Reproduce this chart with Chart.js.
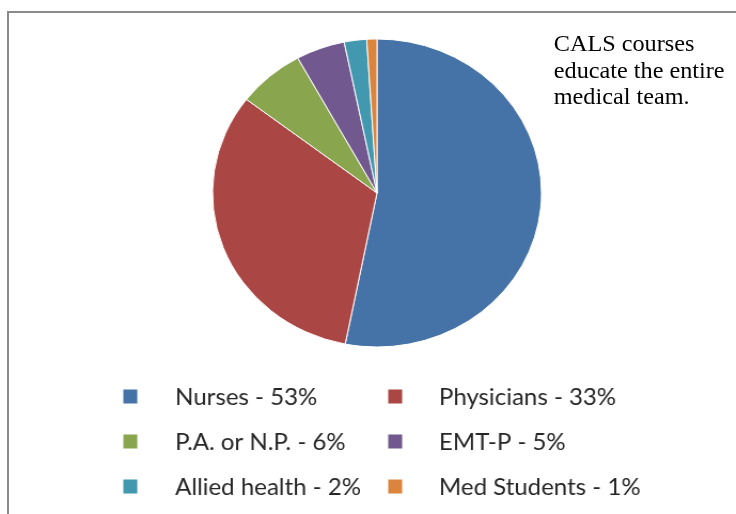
<!DOCTYPE html>
<html>
<head>
<meta charset="utf-8">
<script src="https://cdn.jsdelivr.net/npm/chart.js@4.4.1/dist/chart.umd.min.js"></script>
<style>
  html, body { margin: 0; padding: 0; background: #fff; overflow: hidden; }
  #wrap { position: relative; width: 736px; height: 514px; overflow: hidden; }
  #frame {
    position: absolute; left: 7px; top: 11px; width: 800px; height: 600px;
    border: 2px solid #8a8a8a; box-sizing: border-box;
  }
  /* a figura original está esticada na horizontal (~6.8%) */
  #stage {
    position: absolute; left: 0; top: 0; width: 689px; height: 514px;
    transform: scaleX(1.068); transform-origin: 0 0;
  }
  #chart { position: absolute; left: 0; top: 0; }
  #note {
    position: absolute; left: 518.5px; top: 31px;
    font-family: "Liberation Serif", "Times New Roman", serif;
    font-size: 22.7px; line-height: 26.5px; color: #000; white-space: nowrap;
  }
</style>
</head>
<body>
<div id="wrap">
  <div id="frame"></div>
  <div id="stage">
    <canvas id="chart" width="689" height="514"></canvas>
    <div id="note">CALS courses<br>educate the entire<br>medical team.</div>
  </div>
</div>
<script>
// dados
const categories = ['Nurses', 'Physicians', 'P.A. or N.P.', 'EMT-P', 'Allied health', 'Med Students'];
const legendLabels = ['Nurses - 53%', 'Physicians - 33%', 'P.A. or N.P. - 6%', 'EMT-P - 5%', 'Allied health - 2%', 'Med Students - 1%'];
const shares = [53.1, 32.3, 6.6, 4.8, 2.2, 1.0];
const sliceColors = ['#4572A7', '#AA4643', '#89A54E', '#71588F', '#4198AF', '#DB843D'];

// legenda em duas colunas, desenhada no canvas
const gridLegend = {
  id: 'gridLegend',
  afterDraw(chart) {
    const ctx = chart.ctx;
    const ds = chart.data.datasets[0];
    const boxX = [115.5, 363.5];
    const textX = [164, 411];
    ctx.save();
    ctx.font = '22.5px Lato, "Open Sans", sans-serif';
    ctx.textBaseline = 'middle';
    chart.data.labels.forEach((lbl, i) => {
      const col = i % 2;
      const row = Math.floor(i / 2);
      const y = 396.5 + row * 45;
      ctx.fillStyle = ds.backgroundColor[i];
      ctx.fillRect(boxX[col], y - 7, 13, 14);
      ctx.fillStyle = '#262626';
      ctx.fillText(legendLabels[i], textX[col], y + 1);
    });
    ctx.restore();
  }
};

new Chart(document.getElementById('chart'), {
  type: 'pie',
  data: {
    labels: categories,
    datasets: [{
      data: shares,
      backgroundColor: sliceColors,
      borderColor: '#ffffff',
      borderWidth: 1,
      hoverOffset: 0,
      offset: 0
    }]
  },
  options: {
    responsive: false,
    animation: false,
    layout: { padding: { left: 198.5, right: 181.5, top: 38.5, bottom: 166.5 } },
    plugins: {
      legend: { display: false },
      tooltip: { enabled: false }
    }
  },
  plugins: [gridLegend]
});
</script>
</body>
</html>
